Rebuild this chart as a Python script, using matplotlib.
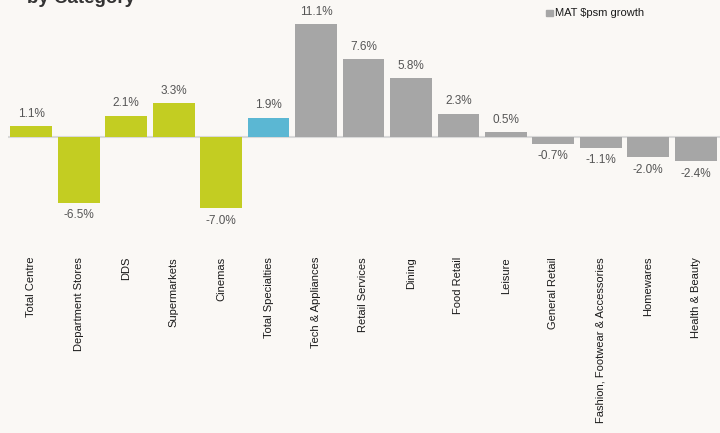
import matplotlib
matplotlib.use("Agg")
import matplotlib.pyplot as plt

plt.rcParams["font.family"] = ["Liberation Sans", "DejaVu Sans"]

categories = ["Total Centre", "Department Stores", "DDS", "Supermarkets", "Cinemas",
              "Total Specialties", "Tech & Appliances", "Retail Services", "Dining",
              "Food Retail", "Leisure", "General Retail",
              "Fashion, Footwear & Accessories", "Homewares", "Health & Beauty"]
growth = [1.1, -6.5, 2.1, 3.3, -7.0, 1.9, 11.1, 7.6, 5.8, 2.3, 0.5, -0.7, -1.1, -2.0, -2.4]
groups = ["major"] * 5 + ["total"] + ["spec"] * 9

green = "#c3cd22"
blue = "#5bb7d3"
grey = "#a6a6a6"
bg = "#faf8f5"
colors = {"major": green, "total": blue, "spec": grey}

W, H = 720, 433
fig = plt.figure(figsize=(W / 100, H / 100), dpi=100, facecolor=bg)
# axes: x from 7.5px to 719.5px, y from 10px to 250px
ax = fig.add_axes([7.5 / W, 1 - 250 / H, 712 / W, 240 / H])
ax.set_facecolor(bg)

x = range(len(categories))
bars = ax.bar(x, growth, width=0.88, color=[colors[g] for g in groups], zorder=2)
ax.set_xlim(-0.5, len(categories) - 0.5)
ax.set_ylim(-11.08, 12.45)
ax.axhline(0, color="#d9d9d9", lw=1.5, zorder=1)

for xi, v in zip(x, growth):
    if v >= 0:
        ax.text(xi, v + 0.6, f"{v:.1f}%", ha="center", va="bottom", fontsize=8.5, color="#555555")
    else:
        ax.text(xi, v - 0.6, f"{v:.1f}%", ha="center", va="top", fontsize=8.5, color="#555555")

ax.set_xticks(list(x))
ax.set_xticklabels(categories, rotation=90, fontsize=8, color="#1a1a1a")
ax.tick_params(axis="x", length=0, pad=5)
ax.set_yticks([])
for s in ax.spines.values():
    s.set_visible(False)

# title (cut off at top like the original slide)
fig.text(27 / W, 1 - 3 / H, "by Category", fontsize=13.5, fontweight="bold",
         color="#333333", va="baseline", ha="left")

# legend
fig.patches.append(plt.Rectangle((546 / W, 1 - 16 / H), 6.5 / W, 6.5 / H,
                                 transform=fig.transFigure, color=grey, figure=fig))
fig.text(555 / W, 1 - 12.5 / H, "MAT $psm growth", fontsize=8, color="#1a1a1a",
         va="center", ha="left")

fig.savefig("out.png", dpi=100, facecolor=bg)
